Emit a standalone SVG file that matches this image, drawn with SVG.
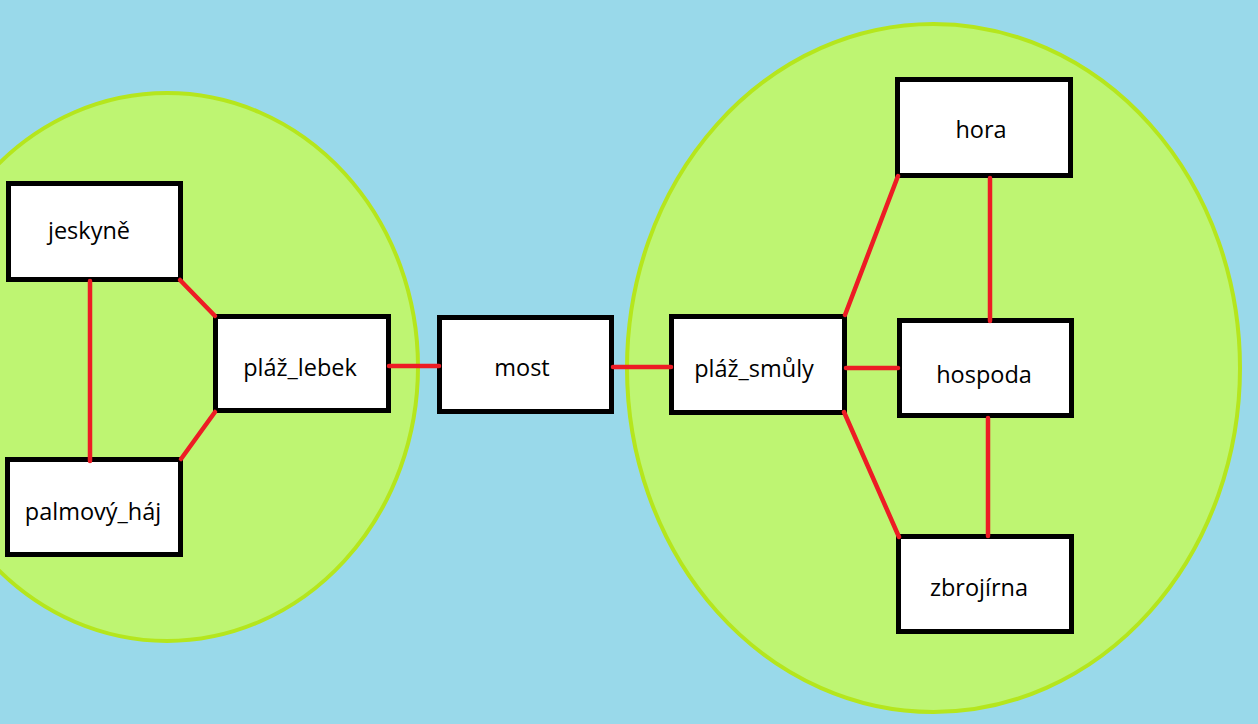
<svg xmlns="http://www.w3.org/2000/svg" width="1258" height="724" viewBox="0 0 1258 724">
<style>
.area{fill:#BEF572;stroke:#B5E61D;stroke-width:4}
.box rect{fill:#FFFFFF;stroke:#000000;stroke-width:5}
.box text{font-family:"Open Sans","Noto Sans","DejaVu Sans",sans-serif;font-size:23.5px;fill:#000000;text-anchor:middle}
#connectors line{stroke:#ED1C24;stroke-width:4.5;stroke-linecap:round}
</style>
<rect x="0" y="0" width="1258" height="724" fill="#99D9EA"/>
<g id="islands">
<ellipse class="area" cx="167" cy="367" rx="251" ry="274"/>
<ellipse class="area" cx="933.5" cy="368" rx="306.5" ry="344"/>
</g>
<g id="nodes">
<g id="jeskyne" class="box"><rect x="8.5" y="183.5" width="172" height="96"/><text x="89" y="239">jeskyně</text></g>
<g id="palmovy_haj" class="box"><rect x="7.5" y="459.5" width="173" height="95"/><text x="93" y="520">palmový_háj</text></g>
<g id="plaz_lebek" class="box"><rect x="215.5" y="316.5" width="173" height="94"/><text x="300" y="376">pláž_lebek</text></g>
<g id="most" class="box"><rect x="439.5" y="317.5" width="172" height="94"/><text x="522" y="376">most</text></g>
<g id="plaz_smuly" class="box"><rect x="671.5" y="316.5" width="173" height="96"/><text x="754" y="377">pláž_smůly</text></g>
<g id="hora" class="box"><rect x="897.5" y="79.5" width="173" height="96"/><text x="981" y="138">hora</text></g>
<g id="hospoda" class="box"><rect x="899.5" y="320.5" width="172" height="95"/><text x="984" y="383">hospoda</text></g>
<g id="zbrojirna" class="box"><rect x="898.5" y="536.5" width="173" height="95"/><text x="979" y="596">zbrojírna</text></g>
</g>
<g id="connectors">
<line x1="90" y1="281" x2="90" y2="461"/>
<line x1="180" y1="280" x2="215" y2="316"/>
<line x1="181" y1="459" x2="215" y2="412"/>
<line x1="389" y1="366" x2="439" y2="366"/>
<line x1="613" y1="367" x2="671" y2="367"/>
<line x1="845" y1="315" x2="898" y2="176"/>
<line x1="846" y1="368" x2="898" y2="368"/>
<line x1="844" y1="412" x2="899" y2="537"/>
<line x1="990" y1="178" x2="990" y2="321"/>
<line x1="988" y1="418" x2="988" y2="536"/>
</g>
</svg>
